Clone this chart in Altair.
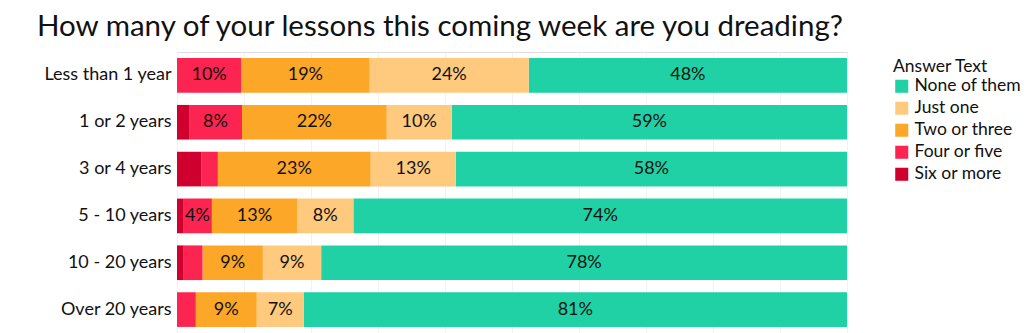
import altair as alt
import pandas as pd

groups = ["Less than 1 year", "1 or 2 years", "3 or 4 years", "5 - 10 years", "10 - 20 years", "Over 20 years"]
answers = ["None of them", "Just one", "Two or three", "Four or five", "Six or more"]
colors = ["#1fd1a5", "#ffca7d", "#fda729", "#fc2450", "#d0002e"]

none_of_them = [47.6, 59.0, 58.4, 73.6, 78.4, 81.1]
just_one = [23.8, 9.7, 12.7, 8.4, 8.7, 7.0]
two_or_three = [19.2, 21.6, 22.8, 12.7, 9.0, 9.1]
four_or_five = [9.6, 7.9, 2.5, 4.3, 2.8, 2.8]
six_or_more = [0.0, 1.8, 3.6, 0.9, 1.0, 0.0]

series = [none_of_them, just_one, two_or_three, four_or_five, six_or_more]
rows = []
for a_i, (ans, vals) in enumerate(zip(answers, series)):
    for g, v in zip(groups, vals):
        rows.append({"group": g, "answer": ans, "value": v, "order": 4 - a_i})
df = pd.DataFrame(rows)

FONT = "Lato"

bars = alt.Chart(df).mark_bar().encode(
    y=alt.Y("group:N", sort=groups, title=None,
            scale=alt.Scale(paddingInner=0.26, paddingOuter=0.13),
            axis=alt.Axis(domain=False, ticks=False, labelFontSize=18, labelColor="#111",
                          labelFont=FONT, labelPadding=6)),
    x=alt.X("value:Q", stack="normalize", title=None,
            scale=alt.Scale(domain=[0, 1], nice=False),
            axis=alt.Axis(labels=False, ticks=False, domain=False, grid=True,
                          gridColor="#f2f2f2", values=[i / 10 for i in range(11)])),
    color=alt.Color("answer:N", sort=answers,
                    scale=alt.Scale(domain=answers, range=colors),
                    legend=alt.Legend(title="Answer Text", orient="none", legendX=716, legendY=6,
                                      titleFontSize=17.5, titleFont=FONT, titleFontWeight="normal",
                                      titleColor="#111", labelFontSize=17.5, labelFont=FONT,
                                      labelColor="#111", symbolType="square", symbolSize=170,
                                      symbolStrokeWidth=0, rowPadding=3, titlePadding=2)),
    order=alt.Order("order:Q", sort="ascending"),
)

labels = alt.Chart(df).transform_stack(
    stack="value", groupby=["group"], sort=[alt.SortField("order", order="ascending")],
    as_=["v0", "v1"], offset="normalize"
).transform_calculate(
    mid="(datum.v0 + datum.v1) / 2",
    lab="format(datum.value, '.0f') + '%'"
).transform_filter(alt.datum.value >= 4).mark_text(fontSize=18, font=FONT, color="#111").encode(
    y=alt.Y("group:N", sort=groups),
    x=alt.X("mid:Q"),
    text="lab:N",
)

chart = alt.layer(bars, labels).properties(
    width=670, height=281,
    title=alt.TitleParams("How many of your lessons this coming week are you dreading?",
                          anchor="start", frame="group", dx=-140, fontSize=29.5, font=FONT,
                          fontWeight="normal", color="#111", offset=10),
    autosize=alt.AutoSizeParams(type="none"),
    padding={"left": 177, "top": 52, "right": 184, "bottom": 0},
).configure_view(stroke=None).configure(background="white")

chart.save("out.html", embed_options={"renderer": "svg", "actions": False})
